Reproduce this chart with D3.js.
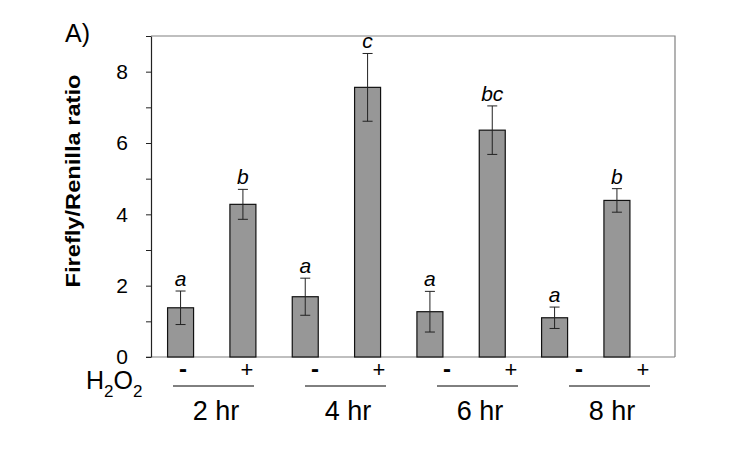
<!DOCTYPE html>
<html>
<head>
<meta charset="utf-8">
<script src="https://cdn.jsdelivr.net/npm/d3@7"></script>
<style>
  body { margin: 0; background: #fff; }
  svg { display: block; font-family: "Liberation Sans", Arial, sans-serif; }
</style>
</head>
<body>
<svg id="vis" width="738" height="466"></svg>
<script>
// values
const timepoints = ["2 hr", "4 hr", "6 hr", "8 hr"];
const treatments = ["-", "+"];
const ratios = [1.38, 4.28, 1.69, 7.56, 1.27, 6.36, 1.10, 4.39];
const errors = [0.47, 0.42, 0.52, 0.95, 0.57, 0.68, 0.30, 0.33];
const letters = ["a", "b", "a", "c", "a", "bc", "a", "b"];
const yTicks = [0, 2, 4, 6, 8];

const plot = { left: 151, right: 675, top: 36, bottom: 357 };

translate = function(a, b) {
  return "translate(" + a + ", " + b + ")";
}

const cats = [];
timepoints.forEach(function(t) {
  treatments.forEach(function(s) { cats.push(t + "|" + s); });
});

const data = cats.map(function(c, i) {
  return { key: c, value: ratios[i], err: errors[i], letter: letters[i] };
});

const svg = d3.select("#vis");

let x = d3.scaleBand()
  .domain(cats)
  .range([149.5, 648])
  .paddingInner(0.583)
  .paddingOuter(0.29);

let y = d3.scaleLinear().domain([0, 9]).range([plot.bottom, plot.top]);

// frame: top and right edges
svg.append("path")
  .attr("d", "M" + plot.left + "," + plot.top + "H" + plot.right + "V" + plot.bottom)
  .attr("fill", "none")
  .attr("stroke", "#808080")
  .attr("stroke-width", 1.2);

// bottom axis line
svg.append("line")
  .attr("x1", plot.left - 5).attr("x2", plot.right)
  .attr("y1", plot.bottom).attr("y2", plot.bottom)
  .attr("stroke", "#808080")
  .attr("stroke-width", 1.2);

// bars
svg.append("g")
  .selectAll("rect")
  .data(data)
  .enter().append("rect")
  .attr("x", function(d) { return x(d.key); })
  .attr("width", x.bandwidth())
  .attr("y", function(d) { return y(d.value); })
  .attr("height", function(d) { return y(0) - y(d.value); })
  .attr("fill", "#979797")
  .attr("stroke", "#111")
  .attr("stroke-width", 1.2);

// error bars
let eb = svg.append("g")
  .selectAll("g")
  .data(data)
  .enter().append("g")
  .attr("transform", function(d) { return translate(x(d.key) + x.bandwidth() / 2, 0); });

eb.append("line")
  .attr("y1", function(d) { return y(d.value - d.err); })
  .attr("y2", function(d) { return y(d.value + d.err); })
  .attr("stroke", "#222");

eb.append("line")
  .attr("x1", -5).attr("x2", 5)
  .attr("y1", function(d) { return y(d.value + d.err); })
  .attr("y2", function(d) { return y(d.value + d.err); })
  .attr("stroke", "#222");

eb.append("line")
  .attr("x1", -5).attr("x2", 5)
  .attr("y1", function(d) { return y(d.value - d.err); })
  .attr("y2", function(d) { return y(d.value - d.err); })
  .attr("stroke", "#222");

eb.append("text")
  .attr("y", function(d) { return y(d.value + d.err) - 5; })
  .attr("text-anchor", "middle")
  .style("font-size", "21px")
  .style("font-style", "italic")
  .text(function(d) { return d.letter; });

// y axis
let yAxis = svg.append("g")
  .attr("transform", translate(plot.left, 0))
  .call(d3.axisLeft(y)
    .tickValues(d3.range(0, 10))
    .tickSize(5)
    .tickSizeOuter(0)
    .tickPadding(18)
    .tickFormat(function(d) { return yTicks.indexOf(d) >= 0 ? d : ""; }));

yAxis.select(".domain").attr("stroke", "#222").attr("stroke-width", 1.2);
yAxis.selectAll(".tick line").attr("stroke", "#222");
yAxis.selectAll(".tick text")
  .style("font-size", "21px")
  .style("font-family", "'Liberation Sans', Arial, sans-serif")
  .attr("fill", "#000");

svg.append("text")
  .attr("transform", translate(80, 181) + " rotate(-90)")
  .attr("text-anchor", "middle")
  .attr("textLength", 213)
  .attr("lengthAdjust", "spacingAndGlyphs")
  .style("font-size", "21px")
  .style("font-weight", "bold")
  .text("Firefly/Renilla ratio");

svg.append("text")
  .attr("x", 65).attr("y", 42)
  .style("font-size", "25px")
  .text("A)");

// treatment row and time labels below the axis
let g = d3.scalePoint().domain(timepoints).range([214, 610]);

let grp = svg.append("g")
  .selectAll("g")
  .data(timepoints)
  .enter().append("g")
  .attr("transform", function(d) { return translate(g(d), 0); });

grp.selectAll("text.sign")
  .data(treatments)
  .enter().append("text")
  .attr("class", "sign")
  .attr("x", function(d, i) { return i === 0 ? -31 : 33; })
  .attr("y", 377)
  .attr("text-anchor", "middle")
  .style("font-size", function(d) { return d === "-" ? "24px" : "22px"; })
  .style("font-weight", function(d) { return d === "-" ? "bold" : "normal"; })
  .text(function(d) { return d; });

grp.append("line")
  .attr("x1", -41).attr("x2", 40)
  .attr("y1", 386).attr("y2", 386)
  .attr("stroke", "#000");

grp.append("text")
  .attr("x", 2)
  .attr("y", 420)
  .attr("text-anchor", "middle")
  .style("font-size", "27px")
  .text(function(d) { return d; });

let h2o2 = svg.append("text")
  .attr("x", 86).attr("y", 389)
  .style("font-size", "25px");
h2o2.append("tspan").text("H");
h2o2.append("tspan").attr("dy", 8).style("font-size", "17px").text("2");
h2o2.append("tspan").attr("dy", -8).text("O");
h2o2.append("tspan").attr("dy", 8).style("font-size", "17px").text("2");
</script>
</body>
</html>
